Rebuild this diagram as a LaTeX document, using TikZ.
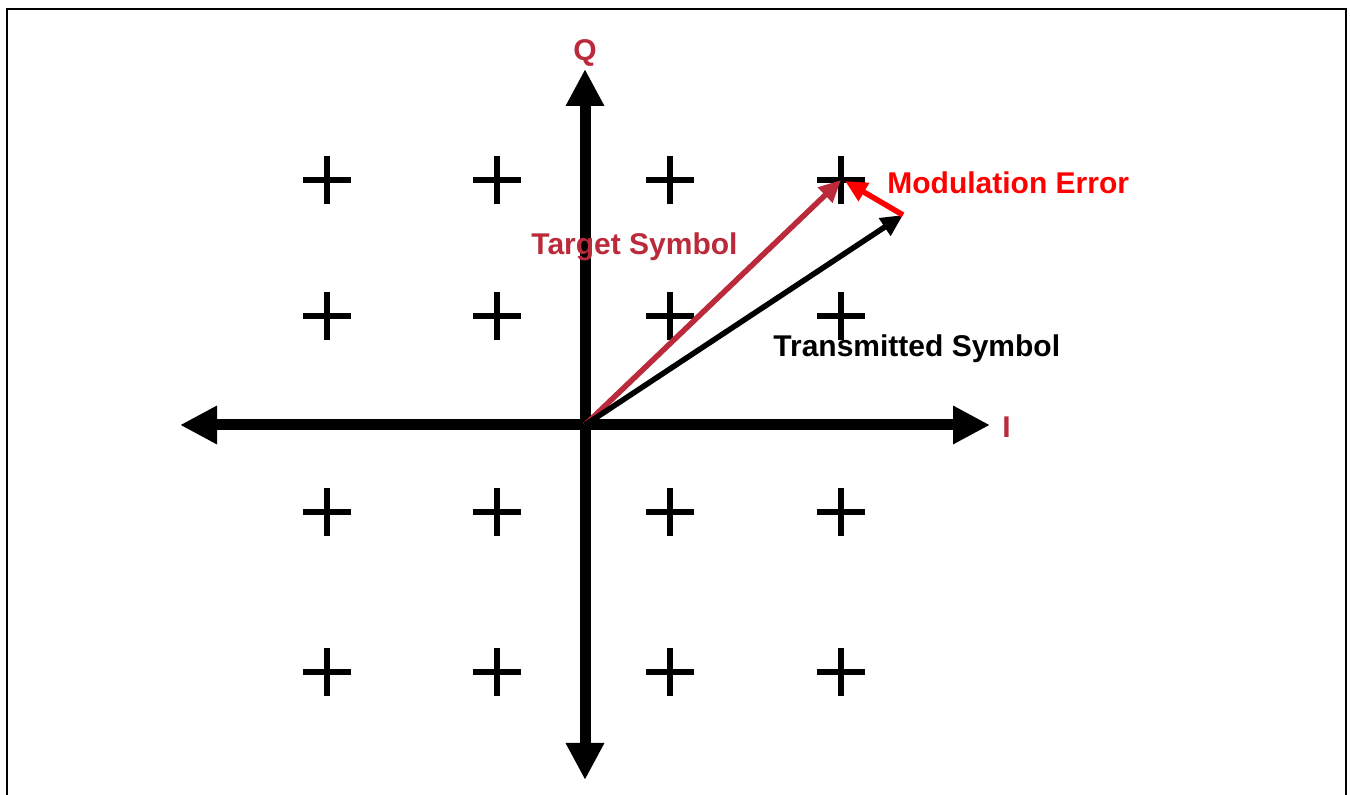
\documentclass[tikz,border=0pt]{standalone}
\usepackage{fontspec}
\setmainfont{Liberation Sans}
\usetikzlibrary{arrows.meta}
\definecolor{tred}{RGB}{186,42,58}
\definecolor{ered}{RGB}{255,0,0}
\tikzset{
  axis/.style={line width=5.5pt,-{Triangle[length=18.5pt,width=18pt]}},
  crossmark/.style={line width=3pt},
  vec/.style={line width=2.75pt,-{Triangle[length=11pt,width=10pt]}},
  lbl/.style={font=\fontsize{15}{18}\selectfont\bfseries,inner sep=0pt,anchor=base west}
}
\begin{document}
\begin{tikzpicture}[x=0.5pt,y=-0.5pt]
\useasboundingbox (0,0) rectangle (1350,795);
\fill[white] (0,0) rectangle (1350,795);
\draw[line width=1.25pt] (7,830) -- (7,9) -- (1346,9) -- (1346,830);
% axes
\coordinate (O) at (585,425);
\coordinate (Ileft) at (180,425);
\coordinate (Iright) at (990,425);
\coordinate (Qtop) at (585,69);
\coordinate (Qbot) at (585,780);
\draw[axis] (O) -- (Iright);
\draw[axis] (O) -- (Ileft);
\draw[axis] (O) -- (Qtop);
\draw[axis] (O) -- (Qbot);
% crosses
\foreach \cx [count=\i] in {327,497,670,841}{
  \foreach \cy [count=\j] in {180,316,512,672}{
    \coordinate (p\i\j) at (\cx,\cy);
    \draw[crossmark] ([xshift=-12pt]p\i\j) -- ([xshift=12pt]p\i\j);
    \draw[crossmark] ([yshift=-12pt]p\i\j) -- ([yshift=12pt]p\i\j);
  }
}
% vectors
\coordinate (X) at (903,215);
\coordinate (E) at (845,181);
\draw[vec,tred] (O) -- (p41);
\draw[vec,black] (O) -- (X);
\draw[vec,ered] (X) -- (E);
% labels
\node[lbl,text=tred,anchor=base] (Ql) at (585,61) {Q};
\node[lbl,text=tred] (Il) at (1002,438) {I};
\node[lbl,text=tred] (ts) at (531,255) {Target Symbol};
\node[lbl,text=black] (tx) at (773,357) {Transmitted Symbol};
\node[lbl,text=ered] (me) at (887,194) {Modulation Error};
\end{tikzpicture}
\end{document}
